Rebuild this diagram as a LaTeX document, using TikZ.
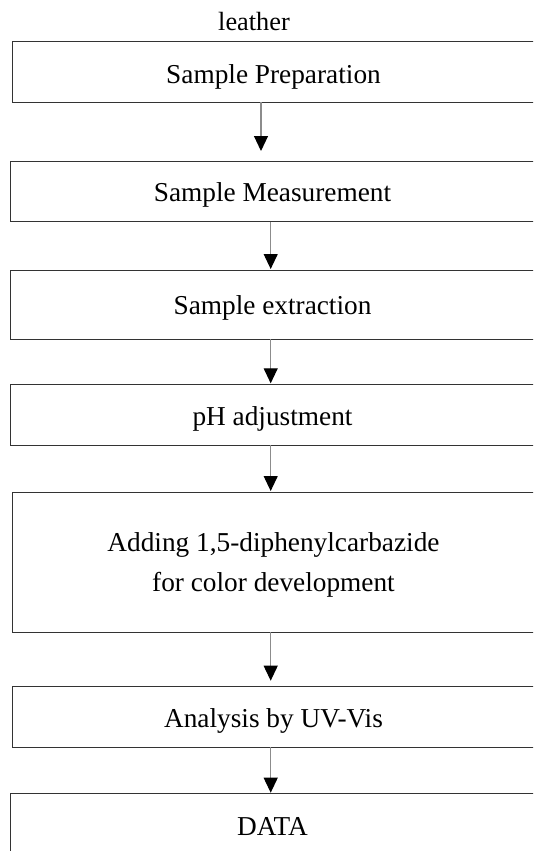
\documentclass[tikz,border=0pt]{standalone}
\usepackage{fontspec}
\setmainfont{Liberation Serif}
\usetikzlibrary{arrows.meta}
\begin{document}
\begin{tikzpicture}[x=1pt,y=-1pt,
  box/.style={inner xsep=0pt, inner ysep=0pt, outer sep=0pt,
    anchor=north west, font=\fontsize{27.3}{32}\selectfont, align=center},
  boxline/.style={draw=black!80, line width=0.9pt},
  arr/.style={draw=black!45, line width=1.1pt, -{Triangle[width=14pt,length=15pt,black]}}]
\useasboundingbox (0,0) rectangle (533,851);
\clip (0,0) rectangle (533,851);
\node[font=\fontsize{26.3}{30}\selectfont, anchor=base, inner sep=0pt] (lab) at (254,31) {leather};
\node[box, minimum width=523pt, text height=42.3pt, text depth=18pt] (b1) at (12,41.7) {Sample Preparation};
\node[box, minimum width=525pt, text height=40.7pt, text depth=20pt] (b2) at (10,161) {Sample Measurement};
\node[box, minimum width=525pt, text height=44.3pt, text depth=25pt] (b3) at (10,270) {Sample extraction};
\node[box, minimum width=525pt, text height=40.7pt, text depth=20pt] (b4) at (10,384.3) {pH adjustment};
\node[box, minimum width=523pt, text height=99.7pt, text depth=40.6pt, font=\fontsize{27.3}{40}\selectfont] (b5) at (12,492) {Adding 1,5-diphenylcarbazide\\for color development};
\node[box, minimum width=523pt, text height=40.6pt, text depth=20pt] (b6) at (12,686.7) {Analysis by UV-Vis};
\node[box, minimum width=525pt, text height=41.3pt, text depth=40pt] (b7) at (10,793.7) {DATA};
\foreach \b in {b1,b2,b3,b4,b5,b6,b7}
  \draw[boxline] (\b.north west) rectangle ([xshift=60pt]\b.south east);
\coordinate (ca) at (261,0);
\coordinate (cb) at (270.7,0);
\draw[arr, shorten >=10pt] (b1.south -| ca) -- (b2.north -| ca);
\draw[arr, shorten >=1pt] (b2.south -| cb) -- (b3.north -| cb);
\draw[arr, shorten >=1pt] (b3.south -| cb) -- (b4.north -| cb);
\draw[arr, shorten >=1pt] (b4.south -| cb) -- (b5.north -| cb);
\draw[arr, shorten >=6pt] (b5.south -| cb) -- (b6.north -| cb);
\draw[arr, shorten >=1pt] (b6.south -| cb) -- (b7.north -| cb);
\end{tikzpicture}
\end{document}
